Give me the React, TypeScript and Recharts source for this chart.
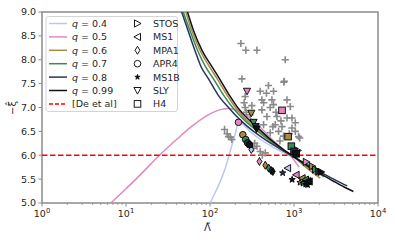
import React from 'react';
import { ComposedChart, Line, Scatter, XAxis, YAxis, ReferenceLine, ReferenceArea } from 'recharts';

// ---------- data ----------
const qLabels = ['0.4', '0.5', '0.6', '0.7', '0.8', '0.99'];
const qColors = ['#bcc6f2', '#e28abf', '#a68b45', '#3b8a55', '#25365c', '#121212'];

const curveQ04 = [
  { x: 100, y: 5.0 }, { x: 125, y: 5.35 }, { x: 150, y: 5.7 }, { x: 175, y: 6.1 },
  { x: 200, y: 6.45 }, { x: 222, y: 6.71 }, { x: 250, y: 6.64 }, { x: 300, y: 6.5 },
  { x: 400, y: 6.33 }, { x: 550, y: 6.18 }, { x: 750, y: 6.05 }, { x: 1000, y: 5.95 },
  { x: 1500, y: 5.79 }, { x: 2000, y: 5.67 },
];
const curveQ05 = [
  { x: 6.6, y: 5.0 }, { x: 10, y: 5.3 }, { x: 15, y: 5.6 }, { x: 25, y: 6.0 },
  { x: 40, y: 6.33 }, { x: 60, y: 6.6 }, { x: 90, y: 6.82 }, { x: 130, y: 6.95 },
  { x: 170, y: 6.98 }, { x: 230, y: 6.9 }, { x: 300, y: 6.78 }, { x: 400, y: 6.58 },
  { x: 550, y: 6.33 }, { x: 700, y: 6.15 }, { x: 900, y: 6.0 }, { x: 1150, y: 5.75 },
];
const curveQ06 = [
  { x: 51.5, y: 9.0 }, { x: 61, y: 8.6 }, { x: 76, y: 8.2 }, { x: 98, y: 7.86 },
  { x: 122, y: 7.6 }, { x: 160, y: 7.26 }, { x: 205, y: 6.98 }, { x: 285, y: 6.7 },
  { x: 390, y: 6.5 }, { x: 540, y: 6.29 }, { x: 750, y: 6.11 }, { x: 1000, y: 5.96 },
  { x: 1400, y: 5.74 }, { x: 2050, y: 5.52 },
];
const curveQ07 = [
  { x: 48, y: 9.0 }, { x: 58, y: 8.6 }, { x: 71, y: 8.2 }, { x: 88, y: 7.86 },
  { x: 110, y: 7.6 }, { x: 145, y: 7.26 }, { x: 190, y: 6.98 }, { x: 262, y: 6.72 },
  { x: 370, y: 6.5 }, { x: 520, y: 6.3 }, { x: 730, y: 6.12 }, { x: 1000, y: 5.96 },
  { x: 1500, y: 5.74 }, { x: 2300, y: 5.55 },
];
const curveQ08 = [
  { x: 46, y: 9.0 }, { x: 55, y: 8.6 }, { x: 66, y: 8.2 }, { x: 78, y: 7.86 },
  { x: 96, y: 7.6 }, { x: 125, y: 7.26 }, { x: 170, y: 6.98 }, { x: 235, y: 6.72 },
  { x: 330, y: 6.5 }, { x: 480, y: 6.3 }, { x: 700, y: 6.12 }, { x: 1000, y: 5.96 },
  { x: 1500, y: 5.78 }, { x: 2200, y: 5.62 }, { x: 3200, y: 5.47 }, { x: 4300, y: 5.36 },
];
const curveQ099 = [
  { x: 54, y: 9.0 }, { x: 64, y: 8.6 }, { x: 80, y: 8.2 }, { x: 105, y: 7.86 },
  { x: 130, y: 7.6 }, { x: 170, y: 7.26 }, { x: 218, y: 6.98 }, { x: 300, y: 6.72 },
  { x: 400, y: 6.52 }, { x: 550, y: 6.3 }, { x: 750, y: 6.12 }, { x: 1000, y: 5.97 },
  { x: 1500, y: 5.76 }, { x: 2000, y: 5.63 }, { x: 3000, y: 5.45 }, { x: 4000, y: 5.33 },
  { x: 5100, y: 5.24 },
];
const curves = [curveQ04, curveQ05, curveQ06, curveQ07, curveQ08, curveQ099];

const deEtAl = 6.0;

const grayPoints = [
  { x: 233, y: 8.34 }, { x: 267, y: 8.2 }, { x: 362, y: 8.2 }, { x: 787, y: 8.0 },
  { x: 240, y: 7.6 }, { x: 766, y: 7.55 }, { x: 396, y: 7.34 }, { x: 497, y: 7.46 },
  { x: 571, y: 7.34 }, { x: 262, y: 7.23 }, { x: 415, y: 7.16 }, { x: 546, y: 7.16 },
  { x: 571, y: 7.06 }, { x: 825, y: 7.16 }, { x: 903, y: 7.02 }, { x: 315, y: 7.04 },
  { x: 415, y: 6.95 }, { x: 476, y: 6.81 }, { x: 627, y: 6.81 }, { x: 825, y: 6.78 },
  { x: 946, y: 6.78 }, { x: 1037, y: 6.68 }, { x: 598, y: 6.64 }, { x: 719, y: 6.6 },
  { x: 655, y: 6.5 }, { x: 946, y: 6.57 }, { x: 1037, y: 6.5 }, { x: 1135, y: 6.39 },
  { x: 434, y: 6.64 }, { x: 521, y: 6.47 }, { x: 149, y: 6.54 }, { x: 166, y: 6.39 },
  { x: 182, y: 6.33 }, { x: 362, y: 6.19 }, { x: 396, y: 6.08 }, { x: 455, y: 6.05 },
  { x: 255, y: 7.1 }, { x: 262, y: 7.0 }, { x: 270, y: 6.9 }, { x: 300, y: 6.85 },
  { x: 470, y: 7.3 }, { x: 520, y: 7.0 }, { x: 610, y: 6.9 }, { x: 700, y: 6.72 },
  { x: 880, y: 6.45 }, { x: 560, y: 6.6 }, { x: 750, y: 6.4 }, { x: 680, y: 6.3 },
  { x: 160, y: 6.45 }, { x: 175, y: 6.38 }, { x: 340, y: 6.25 }, { x: 330, y: 6.15 },
  { x: 420, y: 6.0 }, { x: 1170, y: 6.36 }, { x: 435, y: 7.1 }, { x: 756, y: 7.53 },
];

// EOS points: q index (0..5) refers to qLabels
const stosPoints = [
  { q: 0, x: 1110, y: 6.1 }, { q: 1, x: 1400, y: 5.86 }, { q: 2, x: 1650, y: 5.77 },
  { q: 3, x: 1800, y: 5.7 }, { q: 4, x: 1970, y: 5.66 }, { q: 5, x: 2100, y: 5.65 },
];
const ms1Points = [
  { q: 0, x: 840, y: 5.73 }, { q: 1, x: 1060, y: 5.59 }, { q: 2, x: 1250, y: 5.52 },
  { q: 3, x: 1370, y: 5.49 }, { q: 4, x: 1450, y: 5.46 }, { q: 5, x: 1520, y: 5.45 },
];
const mpa1Points = [
  { q: 0, x: 310, y: 6.12 }, { q: 1, x: 388, y: 5.87 }, { q: 2, x: 455, y: 5.79 },
  { q: 3, x: 500, y: 5.73 }, { q: 4, x: 535, y: 5.68 }, { q: 5, x: 560, y: 5.66 },
];
const apr4Points = [
  { q: 1, x: 218, y: 6.69 }, { q: 2, x: 246, y: 6.43 }, { q: 3, x: 266, y: 6.33 },
  { q: 4, x: 280, y: 6.26 }, { q: 5, x: 295, y: 6.22 },
];
const ms1bPoints = [
  { q: 4, x: 733, y: 5.63 }, { q: 5, x: 950, y: 5.49 }, { q: 2, x: 1180, y: 5.43 },
  { q: 3, x: 1280, y: 5.41 }, { q: 4, x: 1380, y: 5.39 }, { q: 5, x: 1450, y: 5.38 },
];
const slyPoints = [
  { q: 1, x: 276, y: 7.34 }, { q: 2, x: 310, y: 6.88 }, { q: 3, x: 330, y: 6.69 },
  { q: 4, x: 350, y: 6.6 }, { q: 5, x: 358, y: 6.55 },
];
const h4Points = [
  { q: 1, x: 720, y: 6.94 }, { q: 2, x: 850, y: 6.39 }, { q: 3, x: 930, y: 6.19 },
  { q: 4, x: 1000, y: 6.08 }, { q: 5, x: 1060, y: 6.03 },
];
const eosNames = ['STOS', 'MS1', 'MPA1', 'APR4', 'MS1B', 'SLY', 'H4'];
const eosSets = [stosPoints, ms1Points, mpa1Points, apr4Points, ms1bPoints, slyPoints, h4Points];

const yTicks = [5.0, 5.5, 6.0, 6.5, 7.0, 7.5, 8.0, 8.5, 9.0];
const xMajor = [1, 10, 100, 1000, 10000];
const xMajorExp = ['0', '1', '2', '3', '4'];
const xMinor = [
  2, 3, 4, 5, 6, 7, 8, 9,
  20, 30, 40, 50, 60, 70, 80, 90,
  200, 300, 400, 500, 600, 700, 800, 900,
  2000, 3000, 4000, 5000, 6000, 7000, 8000, 9000,
];

// ---------- styles ----------
const FONT = 'DejaVu Sans, sans-serif';
const SPINE = '#8c8c8c';
const TXT = '#262626';

function markerPath(kind: string, cx: number, cy: number, scale: number): string {
  const s = scale;
  switch (kind) {
    case 'STOS':
      return `${cx - 3 * s},${cy - 3.6 * s} ${cx - 3 * s},${cy + 3.6 * s} ${cx + 3.6 * s},${cy}`;
    case 'MS1':
      return `${cx + 3 * s},${cy - 3.6 * s} ${cx + 3 * s},${cy + 3.6 * s} ${cx - 3.6 * s},${cy}`;
    case 'MPA1':
      return `${cx},${cy - 4 * s} ${cx + 2.4 * s},${cy} ${cx},${cy + 4 * s} ${cx - 2.4 * s},${cy}`;
    case 'SLY':
      return `${cx - 3.6 * s},${cy - 3 * s} ${cx + 3.6 * s},${cy - 3 * s} ${cx},${cy + 3.6 * s}`;
    case 'MS1B': {
      const pts: string[] = [];
      for (let i = 0; i < 10; i++) {
        const r = (i % 2 === 0 ? 3.3 : 1.4) * s;
        const a = -Math.PI / 2 + (i * Math.PI) / 5;
        pts.push(`${cx + r * Math.cos(a)},${cy + r * Math.sin(a)}`);
      }
      return pts.join(' ');
    }
    default:
      return '';
  }
}

function Marker({ kind, cx, cy, fill }: { kind: string; cx: number; cy: number; fill: string }) {
  if (kind === 'APR4') {
    return <circle cx={cx} cy={cy} r={3.3} fill={fill} stroke="#000" strokeWidth={0.9} />;
  }
  if (kind === 'H4') {
    return <rect x={cx - 3.3} y={cy - 3.3} width={6.6} height={6.6} fill={fill} stroke="#000" strokeWidth={0.9} />;
  }
  return <polygon points={markerPath(kind, cx, cy, 1)} fill={fill} stroke="#000" strokeWidth={0.9} strokeLinejoin="miter" />;
}

const XTick = (props: any) => {
  const { x, y, payload } = props;
  const idx = xMajor.indexOf(payload.value);
  if (idx < 0) {
    return <line x1={x} x2={x} y1={y} y2={y + 2} stroke={SPINE} strokeWidth={0.8} />;
  }
  return (
    <g>
      <line x1={x} x2={x} y1={y} y2={y + 3.5} stroke={SPINE} strokeWidth={1} />
      <text x={x} y={y + 14} textAnchor="middle" fontSize={9.5} fill={TXT} fontFamily={FONT}>
        10<tspan dy={-4} fontSize={6.8}>{xMajorExp[idx]}</tspan>
      </text>
    </g>
  );
};

const YTick = (props: any) => {
  const { x, y, payload } = props;
  return (
    <g>
      <line x1={x - 3.5} x2={x} y1={y} y2={y} stroke={SPINE} strokeWidth={1} />
      <text x={x - 6} y={y + 3.4} textAnchor="end" fontSize={9.5} fill={TXT} fontFamily={FONT}>
        {Number(payload.value).toFixed(1)}
      </text>
    </g>
  );
};

function Legend() {
  const rowY = [23.5, 36.9, 50.3, 63.7, 77.1, 90.5, 103.9];
  return (
    <svg width={395} height={244} style={{ position: 'absolute', left: 0, top: 0, pointerEvents: 'none' }}>
      <rect x={46} y={16.5} width={131.5} height={95} rx={2.5} fill="#fff" fillOpacity={0.85} stroke="#d4d4d4" strokeWidth={1} />
      {qLabels.map((q, i) => (
        <g key={q}>
          <line x1={49} x2={67} y1={rowY[i]} y2={rowY[i]} stroke={qColors[i]} strokeWidth={1.5} />
          <text x={72} y={rowY[i] + 3.4} fontSize={9.5} fill={TXT} fontFamily={FONT}>
            <tspan fontStyle="italic">q</tspan> = {q}
          </text>
        </g>
      ))}
      <line x1={49} x2={67} y1={rowY[6]} y2={rowY[6]} stroke="#ff0000" strokeWidth={1.5} strokeDasharray="4 2" />
      <text x={72} y={rowY[6] + 3.4} fontSize={9.5} fill={TXT} fontFamily={FONT}>[De et al]</text>
      {eosNames.map((n, i) => (
        <g key={n}>
          {n === 'MS1B' ? (
            <polygon points={markerPath(n, 137.5, rowY[i], 0.85)} fill="#000" stroke="#000" strokeWidth={0.6} />
          ) : (
            <Marker kind={n} cx={137.5} cy={rowY[i]} fill="#fff" />
          )}
          <text x={153} y={rowY[i] + 3.4} fontSize={9.5} fill={TXT} fontFamily={FONT}>{n}</text>
        </g>
      ))}
    </svg>
  );
}

export default function App() {
  return (
    <div style={{ position: 'absolute', left: 0, top: 0, width: 395, height: 244, background: '#fff', fontFamily: FONT }}>
      <ComposedChart width={395} height={244} margin={{ top: 12, right: 17, bottom: 0, left: 0 }}>
        <XAxis
          dataKey="x"
          type="number"
          scale="log"
          domain={[1, 10000]}
          allowDataOverflow
          ticks={[...xMajor, ...xMinor]}
          interval={0}
          height={41}
          tickSize={0}
          tickMargin={0}
          tickLine={false}
          axisLine={false}
          tick={<XTick />}
        />
        <YAxis
          dataKey="y"
          type="number"
          domain={[5, 9]}
          allowDataOverflow
          ticks={yTicks}
          interval={0}
          width={42}
          tickSize={0}
          tickMargin={0}
          tickLine={false}
          axisLine={false}
          tick={<YTick />}
        />
        <Scatter
          data={grayPoints}
          isAnimationActive={false}
          shape={(p: any) => (
            <path
              d={`M${p.cx - 3.6},${p.cy}H${p.cx + 3.6}M${p.cx},${p.cy - 3.6}V${p.cy + 3.6}`}
              stroke="#8a8a8a"
              strokeWidth={1.6}
            />
          )}
        />
        {curves.map((c, i) => (
          <Line
            key={qLabels[i]}
            data={c}
            dataKey="y"
            type="monotone"
            stroke={qColors[i]}
            strokeWidth={1.5}
            dot={false}
            activeDot={false}
            isAnimationActive={false}
          />
        ))}
        {eosSets.map((set, k) => (
          <Scatter
            key={eosNames[k]}
            data={set}
            isAnimationActive={false}
            shape={(p: any) => (
              <Marker kind={eosNames[k]} cx={p.cx} cy={p.cy} fill={qColors[p.payload ? p.payload.q : p.q]} />
            )}
          />
        ))}
        <ReferenceLine y={deEtAl} stroke="#ff0000" strokeWidth={1.5} strokeDasharray="5.5 2.5" ifOverflow="extendDomain" />
        <ReferenceArea x1={1} x2={10000} y1={5} y2={9} fill="none" stroke={SPINE} strokeWidth={1.5} />
      </ComposedChart>
      <Legend />
      <div style={{ position: 'absolute', left: 204, top: 222, fontSize: 10, color: TXT, fontFamily: FONT }}>Λ̃</div>
      <div
        style={{
          position: 'absolute',
          left: 12,
          top: 108,
          fontSize: 10,
          color: TXT,
          fontFamily: FONT,
          transform: 'translate(-50%, -50%) rotate(-90deg)',
          whiteSpace: 'nowrap',
        }}
      >
        −ξ̂
      </div>
    </div>
  );
}
